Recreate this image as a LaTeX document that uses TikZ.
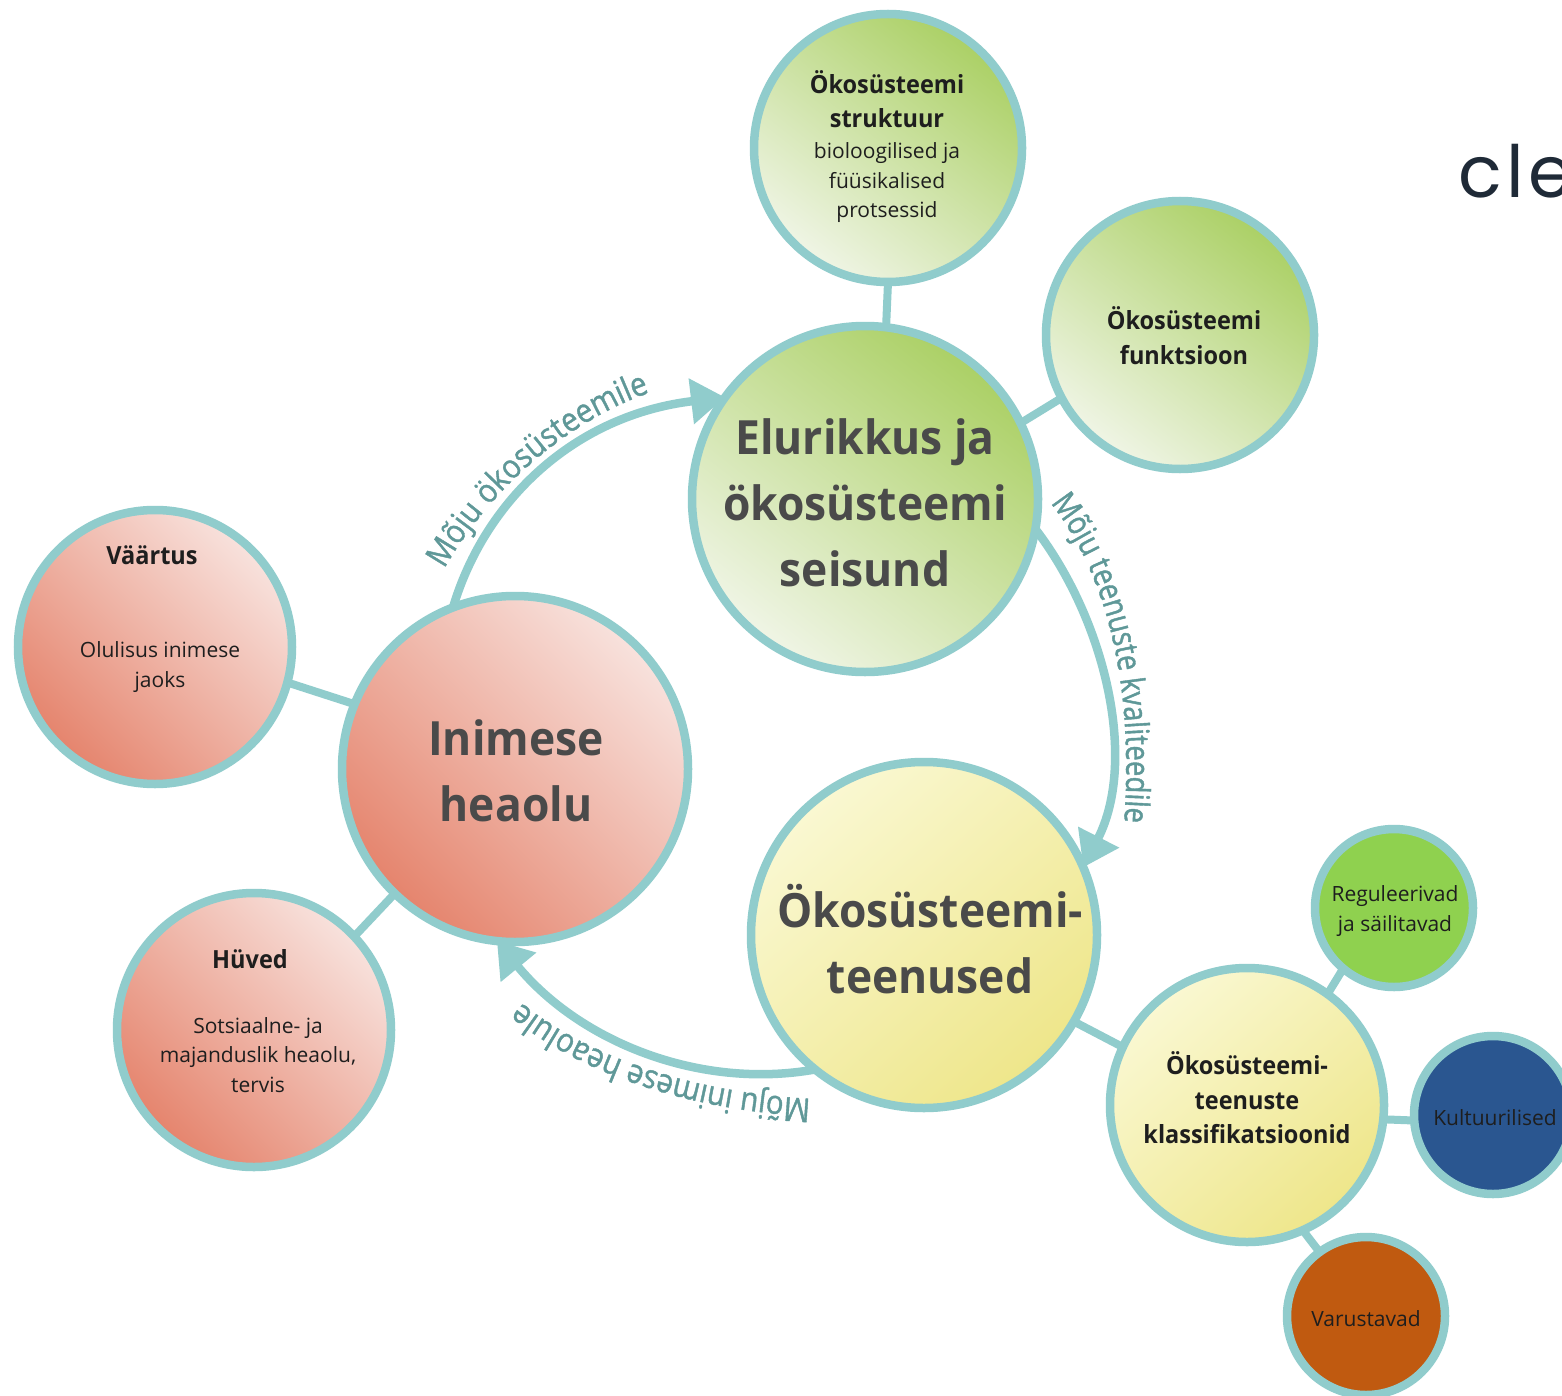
\documentclass[tikz,border=0pt]{standalone}
\usepackage{fontspec}
\setmainfont{Open Sans}
\newfontfamily\headfont[FakeStretch=0.94]{Open Sans}
\newfontfamily\curvefont[FakeStretch=0.89,FakeBold=1.2]{Open Sans}
\newfontfamily\curvefontb[FakeStretch=0.83,FakeBold=1.2]{Open Sans}
\newfontfamily\logofont[LetterSpace=6]{Poppins}
\usetikzlibrary{arrows.meta,backgrounds,decorations.text}
\definecolor{ring}{HTML}{90CCCC}
\definecolor{curvetxt}{HTML}{5F9898}
\definecolor{bigtxt}{HTML}{4A4A4A}
\definecolor{smalltxt}{HTML}{1E1E1E}
\definecolor{gtop}{HTML}{ABD065}
\definecolor{gmid}{HTML}{C9E09C}
\definecolor{gbot}{HTML}{F0F5E6}
\definecolor{ptop}{HTML}{F8E2DD}
\definecolor{pmid}{HTML}{EFB3A5}
\definecolor{pbot}{HTML}{E5846D}
\definecolor{ytop}{HTML}{FAF8D2}
\definecolor{ymid}{HTML}{F4F0B4}
\definecolor{ybot}{HTML}{EEE68A}
\tikzset{
  x=0.5pt,y=-0.5pt,
  ball/.style={circle,draw=ring,line width=4.25pt,inner sep=0pt,outer sep=0pt},
  bigball/.style={ball,minimum size=173pt},
  midball/.style={ball,minimum size=137pt},
  upball/.style={ball,minimum size=134pt},
  tinyball/.style={ball,minimum size=79pt},
  gball/.style={top color=gtop,middle color=gmid,bottom color=gbot,shading angle=-38},
  pball/.style={top color=ptop,middle color=pmid,bottom color=pbot,shading angle=-45},
  yball/.style={top color=ytop,middle color=ymid,bottom color=ybot,shading angle=42},
  bigtext/.style={align=center,text=bigtxt,font=\headfont\bfseries\fontsize{23.6}{33}\selectfont},
  midtext/.style={align=center,text=smalltxt,font=\headfont\bfseries\fontsize{12.5}{17.25}\selectfont},
  thintext/.style={align=center,text=smalltxt,font=\fontsize{10.5}{14.75}\selectfont},
  link/.style={draw=ring,line width=4pt},
  flow/.style={draw=ring,line width=4.25pt,-{Triangle[length=17pt,width=22pt]}},
}
\begin{document}
\begin{tikzpicture}
\clip (0,0) rectangle (1562,1396);
% circles
\node[bigball,gball] (eluri) at (865,499) {};
\node[bigball,pball] (inimese) at (515,769) {};
\node[bigball,yball] (teenused) at (924,935) {};
\node[upball,gball] (struktuur) at (888,148) {};
\node[upball,gball] (funktsioon) at (1180,335) {};
\node[midball,pball] (vaartus) at (155,647) {};
\node[midball,pball] (huved) at (254,1030) {};
\node[midball,yball] (klass) at (1247,1105) {};
\node[tinyball,fill={rgb,255:red,143;green,209;blue,79}] (regul) at (1394,908) {};
\node[tinyball,fill={rgb,255:red,42;green,86;blue,144}] (kult) at (1493,1115) {};
\node[tinyball,fill={rgb,255:red,192;green,90;blue,16}] (varu) at (1366,1316) {};
% connectors
\begin{scope}[on background layer]
\fill[white] (0,0) rectangle (1562,1396);
\draw[link] (struktuur.270) -- (eluri.83);
\draw[link] (funktsioon.208) -- (eluri.26);
\draw[link] (vaartus.-15.7) -- (inimese.158.6);
\draw[link] (huved.43) -- (inimese.226);
\draw[link] (teenused.-30.8) -- (klass.155);
\draw[link] (regul.230) -- (klass.54.4);
\draw[link] (kult.184) -- (klass.-6.5);
\draw[link] (varu.126) -- (klass.-66);
\end{scope}
\draw[flow] (inimese.111) .. controls (485,500) and (575,415) .. (eluri.144);
\draw[flow] (eluri.-10) .. controls (1105,620) and (1138,760) .. (teenused.23.5);
\draw[flow] (teenused.231.7) .. controls (700,1090) and (580,1042) .. (inimese.264);
% curved labels
\path[decorate,decoration={text along path,text align=center,
  text={|\curvefont\fontsize{16.5}{16.5}\selectfont\color{curvetxt}|Mõju ökosüsteemile}}]
  (442,573) .. controls (479,505) and (554,425) .. (654,391);
\path[decorate,decoration={text along path,text align=center,
  text={|\curvefontb\fontsize{16.5}{16.5}\selectfont\color{curvetxt}|Mõju teenuste kvaliteedile}}]
  (1048,500) .. controls (1105,570) and (1135,680) .. (1124,826);
\path[decorate,decoration={text along path,text align=center,
  text={|\curvefont\fontsize{16.5}{16.5}\selectfont\color{curvetxt}|Mõju inimese heaolule}}]
  (815,1099) .. controls (705,1094) and (592,1062) .. (518,1000);
% texts
\node[bigtext] (t-eluri) at (865,502.5) {Elurikkus ja\\ökosüsteemi\\seisund};
\node[bigtext] (t-inimese) at (516,770.5) {Inimese\\heaolu};
\node[bigtext] (t-teenused) at (930,939) {Ökosüsteemi-\\teenused};
\node[midtext] (t-str1) at (887,99) {Ökosüsteemi\\struktuur};
\node[thintext] (t-str2) at (887,183) {bioloogilised ja\\füüsikalised\\protsessid};
\node[midtext] (t-funk) at (1184,335.5) {Ökosüsteemi\\funktsioon};
\node[midtext] (t-vaar1) at (152,555) {Väärtus};
\node[thintext] (t-vaar2) at (160,667) {Olulisus inimese\\jaoks};
\node[midtext] (t-huv1) at (250,959) {Hüved};
\node[thintext] (t-huv2) at (258,1055) {Sotsiaalne- ja\\majanduslik heaolu,\\tervis};
\node[midtext] (t-klass) at (1247,1098) {Ökosüsteemi-\\teenuste\\klassifikatsioonid};
\node[thintext] (t-regul) at (1395,911) {Reguleerivad\\ja säilitavad};
\node[thintext] (t-kult) at (1495,1118) {Kultuurilised};
\node[thintext] (t-varu) at (1366,1319) {Varustavad};
\node[anchor=base west,inner sep=0pt,text={rgb,255:red,31;green,42;blue,55},font=\logofont\fontsize{36}{36}\selectfont] (logo) at (1458,198) {cle};
\end{tikzpicture}
\end{document}
